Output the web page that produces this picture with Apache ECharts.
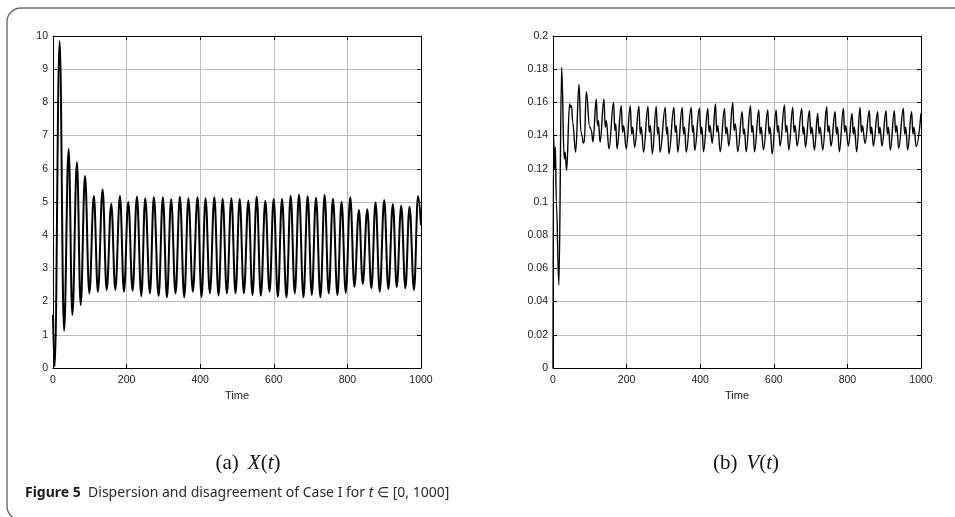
<!DOCTYPE html>
<html>
<head>
<meta charset="utf-8">
<script src="https://cdn.jsdelivr.net/npm/echarts@6/dist/echarts.min.js"></script>
<style>
html,body{margin:0;padding:0;background:#fff;}
#c{width:955px;height:517px;}
</style>
</head>
<body>
<div id="c"></div>
<script>
// ---- data ----
const xTicks = [0, 200, 400, 600, 800, 1000];
const xAxisName = 'Time';

// X(t): extrema (time, value)
const tX = [0,4.5,18,30,42.5,52.6,65,75.2,87,98.7,111,122,134.8,145.8,158.3,169.3,182,192.8,204.5,216.3,228,240,250.6,263.4,274,287,298.6,309.6,321,333,344.7,356.6,368,380,392.7,403.6,414.5,426.3,438.4,449.8,461,472.5,484.7,496,507.3,518.6,530.9,542.1,553.5,564.8,577,588.3,599.7,610.9,622.3,634.4,645.8,657,668.4,680.6,692,703.2,714.6,726.7,738.1,749.3,760.7,772.9,784.2,795.5,807.8,819,831.3,841.7,853.9,865.2,876.5,887.8,900,911.3,923.6,934,946.2,957.5,968.8,981,992,1000];
const X = [1.6,0.05,9.85,1.12,6.6,1.6,6.2,1.9,5.78,2.25,5.18,2.3,5.38,2.35,4.95,2.35,5.18,2.3,5.01,2.33,5.16,2.17,5.11,2.25,5.14,2.17,5.14,2.13,5.08,2.25,5.16,2.13,5.11,2.3,5.14,2.14,5.11,2.25,5.14,2.18,5.1,2.25,5.11,2.25,5.09,2.25,5.04,2.2,5.16,2.18,5.04,2.3,5.09,2.15,5.09,2.13,5.19,2.25,5.22,2.13,5.17,2.2,5.13,2.13,5.21,2.25,5.1,2.2,5.01,2.27,5.14,2.45,4.76,2.53,4.78,2.4,4.99,2.3,5.06,2.37,4.94,2.43,4.89,2.4,4.86,2.35,5.18,4.3];

// V(t): (time, value) points
const V = [
[0,0],[1.5,0.141],[4,0.12],[6.5,0.133],[9,0.1],[16,0.05],[23.5,0.181],[30.5,0.126],[33,0.13],[37,0.119],
[45,0.159],[47.5,0.157],[50.5,0.158],[53.5,0.148],[61.5,0.13],[70.6,0.171],[76,0.142],[79,0.14],[82,0.1355],[85,0.136],
[90.5,0.1665],[99.6,0.1454],[104,0.1434],[108.6,0.1363],
[117.6,0.162],[121,0.146],[123.5,0.149],[128,0.136],
[138.4,0.162],[142,0.145],[145,0.149],[152,0.132],
[164.7,0.160],[168,0.143],[170.5,0.147],[174,0.132],
[185.5,0.158],[189,0.142],[192,0.146],[199,0.132],
[210,0.158],[213.5,0.141],[216.5,0.145],[222,0.133],
[233.4,0.1575],[237,0.141],[240,0.145],[246,0.130],
[258,0.1575],[261.5,0.142],[264.5,0.146],[270,0.129],
[280.5,0.1575],[284,0.141],[287,0.145],[291,0.130],
[305,0.157],[308.5,0.141],[311,0.145],[315,0.129],
[328.5,0.157],[332,0.142],[335,0.146],[339,0.130],
[351,0.157],[354.5,0.141],[357.5,0.145],[362,0.130],
[375.5,0.157],[379,0.142],[381.5,0.146],[385,0.131],
[398,0.1565],[401.5,0.141],[404.5,0.145],[409,0.1303],
[420.7,0.1564],[424,0.142],[427,0.146],[432.6,0.1353],
[441.6,0.159],[445,0.142],[448,0.146],[454.3,0.1303],
[466,0.1564],[469.5,0.141],[472.5,0.145],[477.8,0.1337],
[488.6,0.160],[492,0.143],[495.5,0.147],[502.2,0.1303],
[514,0.1544],[517.5,0.141],[520,0.144],[524.9,0.1303],
[536.6,0.158],[540,0.142],[543,0.146],[547.5,0.1303],
[559.2,0.1554],[562.5,0.141],[565.5,0.145],[571.9,0.1313],
[583.6,0.1554],[587,0.141],[590,0.145],[595.5,0.1289],
[606.4,0.1554],[610,0.142],[612.5,0.146],[617.2,0.1337],
[629,0.1584],[632.5,0.142],[635.5,0.146],[640.8,0.1313],
[651.5,0.157],[655,0.142],[658,0.146],[663.4,0.1337],
[676,0.1564],[679.5,0.141],[682,0.145],[686,0.1329],
[696.8,0.155],[700.5,0.141],[703.5,0.145],[710.4,0.1313],
[719.3,0.1534],[723,0.141],[726,0.145],[733,0.1313],
[743.8,0.1574],[747,0.142],[750,0.146],[755.6,0.1337],
[766.5,0.1544],[770,0.141],[773,0.145],[778.2,0.1303],
[789,0.1564],[792.5,0.142],[795.5,0.146],[802.6,0.1337],
[812.6,0.1534],[816,0.141],[819,0.145],[825.2,0.1303],
[834.3,0.157],[838,0.142],[841,0.146],[847.9,0.1353],
[859.6,0.155],[863,0.141],[866,0.145],[870.5,0.1337],
[882.2,0.1544],[885.5,0.141],[888.5,0.145],[894,0.1337],
[904.9,0.155],[908.5,0.141],[911.5,0.145],[916.7,0.1313],
[927.5,0.155],[931,0.142],[934,0.146],[939.3,0.1323],
[952,0.1564],[955.5,0.141],[958.5,0.145],[963.7,0.1313],
[974.5,0.1544],[978,0.141],[981,0.145],[987,0.1334],
[1000,0.1535]
];

const captionA = ['(a)', 'X', '(', 't', ')'];
const captionB = ['(b)', 'V', '(', 't', ')'];
const figLabel = 'Figure 5';
const figText = 'Dispersion and disagreement of Case I for ';
const figTail = ' \u2208 [0, 1000]';

// ---- chart ----
const chart = echarts.init(document.getElementById('c'), null, {renderer: 'canvas'});
const labelFont = {fontFamily: 'Liberation Sans', fontSize: 10.5, color: '#1a1a1a'};
const gridColor = '#bdbdbd';
const plainNum = v => String(+v.toFixed(4));

function bottomX(gi) {
  return {
    type: 'value', gridIndex: gi, min: 0, max: 1000, interval: 200, position: 'bottom',
    name: xAxisName, nameLocation: 'middle', nameGap: 19,
    nameTextStyle: Object.assign({}, labelFont, {fontSize: 11}),
    axisLine: {show: true, onZero: false, lineStyle: {color: '#000', width: 1}},
    axisTick: {show: true, inside: true, length: 4, lineStyle: {color: '#000'}},
    axisLabel: Object.assign({margin: 7, formatter: plainNum}, labelFont),
    splitLine: {show: true, lineStyle: {color: gridColor, width: 1}}
  };
}
function topX(gi) {
  return {
    type: 'value', gridIndex: gi, min: 0, max: 1000, interval: 200, position: 'top',
    axisLine: {show: true, onZero: false, lineStyle: {color: '#000', width: 1}},
    axisTick: {show: true, inside: true, length: 4, lineStyle: {color: '#000'}},
    axisLabel: {show: false}, splitLine: {show: false}
  };
}
function leftY(gi, max, interval) {
  return {
    type: 'value', gridIndex: gi, min: 0, max: max, interval: interval, position: 'left',
    axisLine: {show: true, onZero: false, lineStyle: {color: '#000', width: 1}},
    axisTick: {show: true, inside: true, length: 4, lineStyle: {color: '#000'}},
    axisLabel: Object.assign({margin: 5, formatter: plainNum}, labelFont),
    splitLine: {show: true, lineStyle: {color: gridColor, width: 1}}
  };
}
function rightY(gi, max, interval) {
  return {
    type: 'value', gridIndex: gi, min: 0, max: max, interval: interval, position: 'right',
    axisLine: {show: true, onZero: false, lineStyle: {color: '#000', width: 1}},
    axisTick: {show: true, inside: true, length: 4, lineStyle: {color: '#000'}},
    axisLabel: {show: false}, splitLine: {show: false}
  };
}

const serif = 'Liberation Serif';
function capRich(parts) {
  return {
    text: '{n|' + parts[0] + '}{g| }{i|' + parts[1] + '}{n|' + parts[2] + '}{i|' + parts[3] + '}{n|' + parts[4] + '}',
    rich: {
      n: {fontFamily: serif, fontSize: 21, fill: '#111'},
      g: {fontFamily: serif, fontSize: 21, fill: '#111', width: 9},
      i: {fontFamily: serif, fontSize: 21, fontStyle: 'italic', fill: '#111'}
    }
  };
}

const option = {
  animation: false,
  backgroundColor: '#fff',
  grid: [
    {left: 53, top: 36, width: 368, height: 332},
    {left: 553, top: 36, width: 368, height: 332}
  ],
  xAxis: [bottomX(0), topX(0), bottomX(1), topX(1)],
  yAxis: [leftY(0, 10, 1), rightY(0, 10, 1), leftY(1, 0.2, 0.02), rightY(1, 0.2, 0.02)],
  series: [
    {
      type: 'line', xAxisIndex: 0, yAxisIndex: 0,
      data: tX.map((t, i) => [t, X[i]]),
      showSymbol: false, smooth: 0.4, smoothMonotone: 'x',
      lineStyle: {color: '#000', width: 2}, z: 5
    },
    {
      type: 'line', xAxisIndex: 2, yAxisIndex: 2,
      data: V,
      showSymbol: false, smooth: 0.4, smoothMonotone: 'x',
      lineStyle: {color: '#000', width: 1.4}, z: 5
    }
  ],
  graphic: [
    {
      type: 'rect', silent: true,
      shape: {x: 7, y: 8, width: 1000, height: 512, r: 14},
      style: {fill: 'none', stroke: '#6a6a6a', lineWidth: 1.4}
    },
    {
      type: 'text', x: 248, y: 463,
      style: Object.assign(capRich(captionA), {align: 'center', verticalAlign: 'middle'})
    },
    {
      type: 'text', x: 746, y: 463,
      style: Object.assign(capRich(captionB), {align: 'center', verticalAlign: 'middle'})
    },
    {
      type: 'text', x: 25, y: 500,
      style: {
        text: '{b|' + figLabel + '}{s|  }{r|' + figText + '}{it|t}{r|' + figTail + '}',
        verticalAlign: 'bottom', align: 'left',
        rich: {
          b: {fontFamily: 'Noto Sans', fontWeight: 'bold', fontSize: 14, fill: '#1a1a1a'},
          s: {fontFamily: 'Noto Sans', fontSize: 14, fill: '#1a1a1a'},
          r: {fontFamily: 'Noto Sans', fontSize: 14, fill: '#2a2a2a'},
          it: {fontFamily: 'Noto Sans', fontStyle: 'italic', fontSize: 14, fill: '#2a2a2a'}
        }
      }
    }
  ]
};
chart.setOption(option);
</script>
</body>
</html>
